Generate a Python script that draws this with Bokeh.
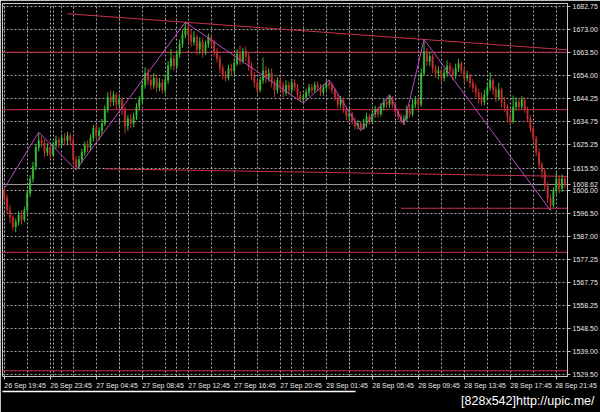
from bokeh.plotting import figure
from bokeh.models import (Range1d, FixedTicker, PrintfTickFormatter, LinearAxis,
                          Grid, Title)
from bokeh.embed import file_html
from bokeh.resources import INLINE

# ---------------- data ----------------
opens = [
1606, 1603, 1598, 1595, 1591, 1593, 1596, 1594, 1598, 1605,
1611, 1616, 1624, 1627, 1626, 1622, 1624, 1621, 1625, 1627,
1626, 1628, 1627, 1629, 1627, 1619, 1616, 1619, 1622, 1625,
1624, 1628, 1632, 1629, 1631, 1634, 1640, 1645, 1643, 1646,
1642, 1644, 1640, 1633, 1636, 1634, 1637, 1641, 1644, 1650,
1655, 1652, 1650, 1653, 1649, 1651, 1648, 1652, 1658, 1661,
1658, 1663, 1667, 1671, 1674, 1671, 1668, 1670, 1665, 1668,
1664, 1667, 1670, 1668, 1664, 1661, 1657, 1654, 1653, 1657,
1656, 1659, 1663, 1660, 1664, 1662, 1658, 1654, 1651, 1648,
1652, 1656, 1653, 1655, 1651, 1648, 1652, 1650, 1647, 1650,
1648, 1651, 1649, 1646, 1644, 1645, 1647, 1649, 1648, 1650,
1649, 1647, 1649, 1651, 1650, 1648, 1645, 1642, 1644, 1640,
1637, 1638, 1635, 1633, 1634, 1632, 1634, 1637, 1635, 1638,
1640, 1638, 1641, 1643, 1642, 1645, 1642, 1639, 1637, 1635,
1636, 1640, 1638, 1642, 1644, 1642, 1655, 1664, 1660, 1662,
1657, 1655, 1656, 1653, 1655, 1658, 1656, 1654, 1657, 1659,
1656, 1653, 1654, 1651, 1649, 1647, 1645, 1643, 1646, 1649,
1652, 1648, 1645, 1648, 1643, 1641, 1637, 1635, 1641, 1643,
1641, 1644, 1640, 1636, 1632, 1628, 1622, 1617, 1614, 1608,
1603, 1600, 1606, 1611, 1607, 1611]

closes = [
1603, 1598, 1595, 1591, 1593, 1596, 1594, 1598, 1605, 1611,
1616, 1624, 1627, 1626, 1622, 1624, 1621, 1625, 1627, 1626,
1628, 1627, 1629, 1627, 1619, 1616, 1619, 1622, 1625, 1624,
1628, 1632, 1629, 1631, 1634, 1640, 1645, 1643, 1646, 1642,
1644, 1640, 1633, 1636, 1634, 1637, 1641, 1644, 1650, 1655,
1652, 1650, 1653, 1649, 1651, 1648, 1652, 1658, 1661, 1658,
1663, 1667, 1671, 1674, 1671, 1668, 1670, 1665, 1668, 1664,
1667, 1670, 1668, 1664, 1661, 1657, 1654, 1653, 1657, 1656,
1659, 1663, 1660, 1664, 1662, 1658, 1654, 1651, 1648, 1652,
1656, 1653, 1655, 1651, 1648, 1652, 1650, 1647, 1650, 1648,
1651, 1649, 1646, 1644, 1645, 1647, 1649, 1648, 1650, 1649,
1647, 1649, 1651, 1650, 1648, 1645, 1642, 1644, 1640, 1637,
1638, 1635, 1633, 1634, 1632, 1634, 1637, 1635, 1638, 1640,
1638, 1641, 1643, 1642, 1645, 1642, 1639, 1637, 1635, 1636,
1640, 1638, 1642, 1644, 1642, 1655, 1664, 1660, 1662, 1657,
1655, 1656, 1653, 1655, 1658, 1656, 1654, 1657, 1659, 1656,
1653, 1654, 1651, 1649, 1647, 1645, 1643, 1646, 1649, 1652,
1648, 1645, 1648, 1643, 1641, 1637, 1635, 1641, 1643, 1641,
1644, 1640, 1636, 1632, 1628, 1622, 1617, 1614, 1608, 1603,
1600, 1606, 1611, 1607, 1611, 1608.62]

highs = [
1607, 1604.5, 1600, 1596, 1594.5, 1597.5, 1598, 1599.5, 1606.5, 1612.5,
1618, 1625.5, 1630.4, 1629, 1627.5, 1626, 1625.5, 1626.5, 1629, 1628.5,
1629.5, 1630, 1630.5, 1630, 1628.5, 1620.5, 1620.5, 1623.5, 1626.5, 1627,
1629.5, 1633.5, 1634, 1632.5, 1636, 1641.5, 1647, 1647.8, 1647.5, 1647,
1646, 1645, 1641, 1637.5, 1638, 1638.5, 1642.5, 1645.5, 1652, 1657.4,
1657, 1654, 1655, 1654.5, 1653, 1652.5, 1654, 1660, 1665, 1662.5,
1664.5, 1669, 1673, 1676.2, 1675.5, 1673, 1672.5, 1671, 1670, 1669.5,
1668.5, 1671.5, 1671, 1669, 1665.5, 1662.5, 1658.5, 1656, 1658.5, 1659,
1661, 1665, 1666.5, 1665.5, 1666, 1663.5, 1659.5, 1655.5, 1652.5, 1653.5,
1661.5, 1658, 1657, 1657, 1652.5, 1653.5, 1654, 1651.5, 1652, 1651.5,
1652.5, 1652.5, 1650.5, 1647.5, 1646.5, 1648.5, 1650.5, 1650.5, 1651.5, 1651.5,
1650.5, 1650.5, 1652, 1652.2, 1651, 1649, 1646.5, 1645.5, 1645, 1641,
1640, 1639, 1636.5, 1635.5, 1635, 1636, 1638.5, 1638, 1639.5, 1641.5,
1641, 1642.5, 1644.5, 1644.5, 1646, 1645.5, 1643, 1640, 1638, 1637.5,
1641.5, 1642, 1644, 1645.5, 1645, 1657, 1669, 1665.5, 1664, 1663,
1658.5, 1658, 1657.5, 1657, 1660.3, 1659.5, 1657.5, 1659, 1661, 1660,
1657.5, 1656, 1655, 1652.5, 1650.5, 1648.5, 1647, 1648, 1651, 1655.3,
1653, 1649.5, 1651, 1649, 1645, 1642, 1638.5, 1645.7, 1645, 1644.5,
1645.5, 1645, 1641, 1637.5, 1633, 1629, 1623.5, 1618, 1615.3, 1609.5,
1604.5, 1607.5, 1613.6, 1612.5, 1613, 1612]

lows = [
1601, 1596.5, 1592.5, 1589.5, 1588.8, 1591.5, 1592, 1593, 1597, 1603.5,
1609.5, 1614.5, 1622.5, 1624, 1620, 1620.5, 1619.5, 1620, 1623.5, 1624,
1624.5, 1625, 1625.5, 1625, 1617.5, 1614.75, 1615, 1617.5, 1620.5, 1622,
1622.5, 1626.5, 1627, 1627, 1629.5, 1633, 1638.5, 1641, 1641.5, 1640,
1640.5, 1637.5, 1629.9, 1631, 1632, 1632.5, 1635.5, 1639.5, 1642.5, 1648.5,
1650, 1648, 1648.5, 1647, 1647.5, 1646.5, 1646.5, 1650.5, 1656.5, 1656,
1656.5, 1661.5, 1665.5, 1669.5, 1668, 1666, 1666.5, 1662.5, 1663, 1661.5,
1662.5, 1665.5, 1666, 1662, 1659.5, 1655, 1652.5, 1651.5, 1652, 1654,
1654.5, 1658, 1658.5, 1659, 1660, 1656, 1652, 1649, 1646.5, 1647,
1650.5, 1651, 1651.5, 1649, 1645, 1646.5, 1648, 1645, 1645.5, 1646,
1646.5, 1647.5, 1644.5, 1643, 1642.5, 1643.5, 1645.5, 1646.5, 1647, 1647.5,
1645.5, 1645.5, 1648, 1648.5, 1646.5, 1643.5, 1640.5, 1640.5, 1638.5, 1635.5,
1635.5, 1633.5, 1631.5, 1631.5, 1631.1, 1631.5, 1632.5, 1633.5, 1634, 1636.5,
1636.5, 1637, 1639.5, 1640.5, 1640.5, 1640.5, 1637.5, 1635.5, 1634, 1633.5,
1635, 1636.5, 1637, 1640.5, 1640, 1641, 1654, 1658, 1658, 1655,
1653, 1652.5, 1651, 1651.5, 1653.5, 1654, 1652, 1652.5, 1655.5, 1654.5,
1651, 1651.5, 1649, 1647, 1645, 1642.5, 1641.5, 1641.5, 1644.5, 1647.5,
1646, 1643, 1643.5, 1640.5, 1639, 1634.5, 1633.2, 1634, 1639.5, 1639.5,
1640, 1638.5, 1634.5, 1630.5, 1626.5, 1620.5, 1615.5, 1611, 1606, 1601,
1597.8, 1599, 1604.5, 1605, 1605.5, 1607]

bars = list(range(len(closes)))

# ZigZag turning points (bar index, price)
zz_bars = [0, 12, 25, 63, 104, 113, 124, 134, 139, 146, 190]
zz_prices = [1607, 1630.4, 1614.75, 1676.2, 1642.5, 1652.2, 1631.1, 1646.0, 1633.5, 1669.0, 1597.8]

# drawn support / resistance lines: (bar0, price0) -> (bar1, price1)
line_x0 = [-1, -1, 22, 35, 138, -1, -1]
line_y0 = [1663.7, 1639.8, 1679.75, 1615.16, 1598.75, 1580.4, 1531.1]
line_x1 = [197, 197, 197, 197, 197, 197, 197]
line_y1 = [1663.7, 1639.8, 1664.6, 1612.0, 1598.75, 1580.4, 1531.1]

bid_price = 1608.62

price_ticks = [1682.75, 1673.00, 1663.50, 1654.00, 1644.25, 1634.75, 1625.25,
               1615.50, 1606.00, 1596.50, 1587.00, 1577.25, 1567.75, 1558.25,
               1548.50, 1539.00, 1529.50]

time_bars = [0, 16, 32, 48, 64, 80, 96, 112, 128, 144, 160, 176, 192]
time_labels = ["26 Sep 19:45", "26 Sep 23:45", "27 Sep 04:45", "27 Sep 08:45",
               "27 Sep 12:45", "27 Sep 16:45", "27 Sep 20:45", "28 Sep 01:45",
               "28 Sep 05:45", "28 Sep 09:45", "28 Sep 13:45", "28 Sep 17:45",
               "28 Sep 21:45"]
grid_bars = [0, 8, 16, 17, 24, 32, 40, 48, 56, 64, 72, 80, 88, 96, 104, 112,
             120, 128, 136, 144, 152, 160, 168, 176, 184, 192]

footer_text = "[828x542]http://upic.me/"

# ---------------- styles / layout ----------------
UP = "#36c236"
DOWN = "#c83030"
LEVEL = "#c8304c"
ZIGZAG = "#c048c8"
GRIDC = "#a8a8a8"
AXC = "#c8c8c8"
TXT = "#e8e8e8"
FONT = "Liberation Sans"
LABEL_HALF = 7.25   # half a time label's width, in bars (labels start at their bar)
NBSP = "\u00a0"

X0, X1 = -0.6, 195.9

p = figure(width=600, height=412,
           x_range=Range1d(X0, X1), y_range=Range1d(1528.7, 1684.0),
           output_backend="svg", toolbar_location=None,
           background_fill_color="black", border_fill_color="black",
           min_border_left=2, min_border_top=3, min_border_right=32,
           min_border_bottom=36, x_axis_location=None, y_axis_location="right")
p.outline_line_color = AXC

# grids
xgrid = Grid(dimension=0, ticker=FixedTicker(ticks=grid_bars))
p.add_layout(xgrid)
p.grid.grid_line_color = GRIDC
p.grid.grid_line_dash = "2 2"
p.grid.grid_line_width = 1

# price axis (right); the bid price is shown among the labels
p.yaxis.ticker = FixedTicker(ticks=price_ticks + [bid_price])
p.yaxis.formatter = PrintfTickFormatter(format="%.2f")
p.yaxis.major_label_text_font = FONT
p.yaxis.major_label_text_font_size = "7px"
p.yaxis.major_label_text_color = TXT
p.yaxis.major_label_standoff = 2
p.yaxis.major_tick_out = 3
p.yaxis.major_tick_in = 0
p.yaxis.minor_tick_line_color = None
p.yaxis.major_tick_line_color = AXC
p.yaxis.axis_line_color = AXC

# time axis: labels start at their bar, as in the terminal.
# The last label cannot be centred past the chart's right edge, so it is
# centred at the edge with a little non-breaking lead-in.
label_pos = [min(b + LABEL_HALF, X1 - 0.1) for b in time_bars]
label_txt = list(time_labels)
label_txt[-1] = NBSP * 9 + label_txt[-1]
xaxis = LinearAxis(
    ticker=FixedTicker(ticks=label_pos, minor_ticks=time_bars),
    bounds=(X0, X1),
    major_label_overrides={pos: lab for pos, lab in zip(label_pos, label_txt)},
    major_label_text_font=FONT, major_label_text_font_size="7px",
    major_label_text_color=TXT, major_label_standoff=2,
    major_tick_out=3, major_tick_in=0, major_tick_line_color=None,
    minor_tick_out=3, minor_tick_in=0, minor_tick_line_color=AXC,
    axis_line_color=None)
p.add_layout(xaxis, "below")

# white rule under the time axis
rule = LinearAxis(ticker=FixedTicker(ticks=[]), bounds=(X0 - 1, 122),
                  axis_line_color="white", axis_line_width=1.5,
                  major_tick_line_color=None, minor_tick_line_color=None,
                  major_tick_out=0, minor_tick_out=0, major_label_text_color=None)
p.add_layout(rule, "below")

# footer
p.add_layout(Title(text=footer_text, align="right", offset=-27, standoff=1,
                   text_color="white", text_font_size="12.5px", text_font=FONT,
                   text_font_style="normal"), "below")

# levels and trend lines
p.segment(x0=line_x0, y0=line_y0, x1=line_x1, y1=line_y1,
          line_color=LEVEL, line_width=1)
p.segment(x0=[-1], y0=[bid_price], x1=[197], y1=[bid_price],
          line_color="#9a9a9a", line_width=1)

# candles
colors = [UP if c >= o else DOWN for o, c in zip(opens, closes)]
p.segment(x0=bars, y0=lows, x1=bars, y1=highs, line_color=colors, line_width=1)
p.vbar(x=bars, width=0.45, top=opens, bottom=closes,
       fill_color=colors, line_color=colors, line_width=0.5)

# zigzag
p.line(zz_bars, zz_prices, line_color=ZIGZAG, line_width=1)

open("out.html", "w").write(file_html(p, INLINE))
